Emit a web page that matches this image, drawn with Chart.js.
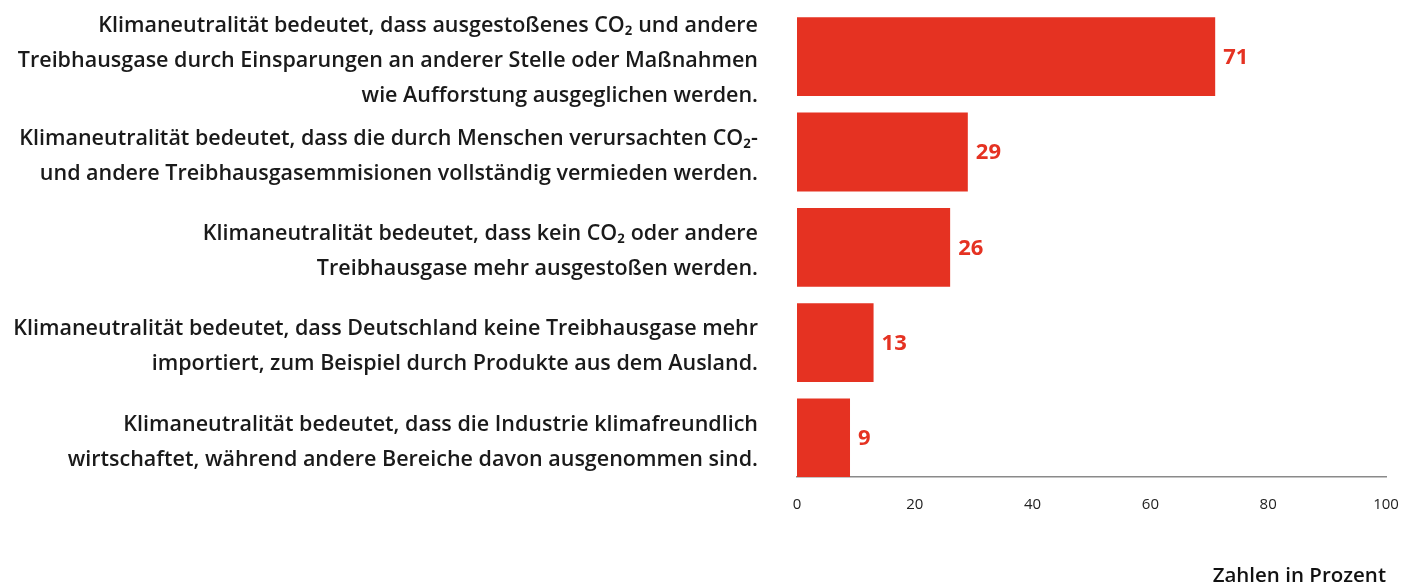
<!DOCTYPE html>
<html lang="de">
<head>
<meta charset="utf-8">
<title>Klimaneutralität</title>
<script src="https://cdn.jsdelivr.net/npm/chart.js@4"></script>
<style>
    html, body { margin: 0; padding: 0; background: #fff; }
    #wrap { width: 1416px; height: 585px; }
</style>
</head>
<body>
<div id="wrap"><canvas id="chart"></canvas></div>
<script>
// Antworten (mehrzeilig, wie im Original umbrochen)
const answers = [
    ['Klimaneutralität bedeutet, dass ausgestoßenes CO₂ und andere', 'Treibhausgase durch Einsparungen an anderer Stelle oder Maßnahmen', 'wie Aufforstung ausgeglichen werden.'],
    ['Klimaneutralität bedeutet, dass die durch Menschen verursachten CO₂-', 'und andere Treibhausgasemmisionen vollständig vermieden werden.'],
    ['Klimaneutralität bedeutet, dass kein CO₂ oder andere', 'Treibhausgase mehr ausgestoßen werden.'],
    ['Klimaneutralität bedeutet, dass Deutschland keine Treibhausgase mehr', 'importiert, zum Beispiel durch Produkte aus dem Ausland.'],
    ['Klimaneutralität bedeutet, dass die Industrie klimafreundlich', 'wirtschaftet, während andere Bereiche davon ausgenommen sind.']
];
const percent = [71, 29, 26, 13, 9];
const xTicks = [0, 20, 40, 60, 80, 100];
const axisNote = 'Zahlen in Prozent';

const RED = '#e53222';
const FONT = '"Open Sans", Roboto, sans-serif';

// Werte als Text rechts neben den Balken
const valueLabels = {
    id: 'valueLabels',
    afterDatasetsDraw(chart) {
        const ctx = chart.ctx;
        const meta = chart.getDatasetMeta(0);
        ctx.save();
        ctx.fillStyle = RED;
        ctx.font = `bold 22px ${FONT}`;
        ctx.textAlign = 'left';
        ctx.textBaseline = 'middle';
        meta.data.forEach((bar, i) => {
            ctx.fillText(String(percent[i]), bar.x + 8, bar.y + 1);
        });
        ctx.restore();
    }
};

new Chart(document.getElementById('chart'), {
    type: 'bar',
    data: {
        datasets: [{
            data: percent.map((v, i) => ({ x: v, y: i })),
            backgroundColor: RED,
            borderWidth: 0,
            barPercentage: 1,
            categoryPercentage: 0.827
        }]
    },
    options: {
        indexAxis: 'y',
        responsive: true,
        maintainAspectRatio: false,
        animation: false,
        layout: { padding: { top: 9, right: 30, left: 0, bottom: 0 } },
        plugins: {
            legend: { display: false },
            tooltip: { enabled: false }
        },
        scales: {
            y: {
                type: 'linear',
                reverse: true,
                offset: false,
                min: -0.5,
                max: 4.41,
                grid: { display: false, drawTicks: false },
                border: { display: false },
                afterBuildTicks: s => {
                    s.ticks = answers.map((a, i) => ({ value: i }));
                },
                afterFit: s => {
                    s.width = 797;
                    s.paddingTop = 0;
                    s.paddingBottom = 0;
                },
                ticks: {
                    autoSkip: false,
                    padding: 39,
                    labelOffset: 4,
                    color: '#1a1a1a',
                    font: { family: FONT, size: 21.5, weight: '600', lineHeight: 1.63 },
                    callback: v => answers[v]
                }
            },
            x: {
                min: 0,
                max: 100,
                grid: { display: false, drawTicks: false },
                border: { display: true, color: '#8a8a8a', width: 1.5 },
                afterBuildTicks: s => {
                    s.ticks = xTicks.map(v => ({ value: v }));
                },
                afterFit: s => {
                    s.height = 108;
                    s.paddingLeft = 0;
                    s.paddingRight = 0;
                },
                ticks: {
                    padding: 19,
                    maxRotation: 0,
                    color: '#222',
                    font: { family: FONT, size: 15 }
                },
                title: {
                    display: true,
                    text: axisNote,
                    align: 'end',
                    color: '#111',
                    padding: 0,
                    font: { family: FONT, size: 20.5, weight: '600', lineHeight: 0.85 }
                }
            }
        }
    },
    plugins: [valueLabels]
});
</script>
</body>
</html>
